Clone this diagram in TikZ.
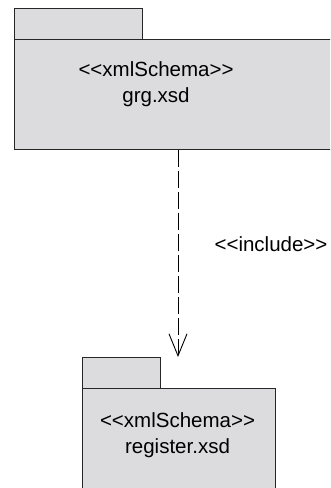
\documentclass[tikz,border=0pt]{standalone}
\usepackage{fontspec}
\setmainfont{Liberation Sans}
\usetikzlibrary{arrows.meta}
\definecolor{pkggray}{RGB}{220,220,222}
\begin{document}
\begin{tikzpicture}[x=1pt,y=-1pt,
  pkg/.style={draw=black!85,line width=1.3pt,fill=pkggray,inner sep=0pt,anchor=north west},
  stereo/.style={font=\fontsize{20.5}{26}\selectfont,align=center,inner sep=0pt},
  include/.style={draw=black,line width=0.9pt,dash pattern=on 16.5pt off 4.5pt,
    -{Straight Barb[length=22pt,width=18pt,line width=0.9pt]}}]
\useasboundingbox (0,0) rectangle (330,488);
\clip (0,0) rectangle (330,488);

% grg.xsd
\node[pkg,minimum width=128pt,minimum height=31pt] (grgtab) at (14,8) {};
\node[pkg,minimum width=400pt,minimum height=110pt] (grgbody) at (14,39) {};
\node[stereo,anchor=base] (grglabel) at (156,102) {{<}{<}xmlSchema{>}{>}\\grg.xsd};

% register.xsd
\node[pkg,minimum width=78pt,minimum height=31pt] (regtab) at (82,357) {};
\node[pkg,minimum width=193pt,minimum height=180pt] (regbody) at (82,388) {};
\node[stereo,anchor=base] (reglabel) at (177.5,453) {{<}{<}xmlSchema{>}{>}\\register.xsd};

% include
\coordinate (tip) at (178,357);
\draw[include] (grgbody.south -| tip) -- (tip);
\node[stereo,anchor=base] (inclabel) at (271,251) {{<}{<}include{>}{>}};
\end{tikzpicture}
\end{document}
